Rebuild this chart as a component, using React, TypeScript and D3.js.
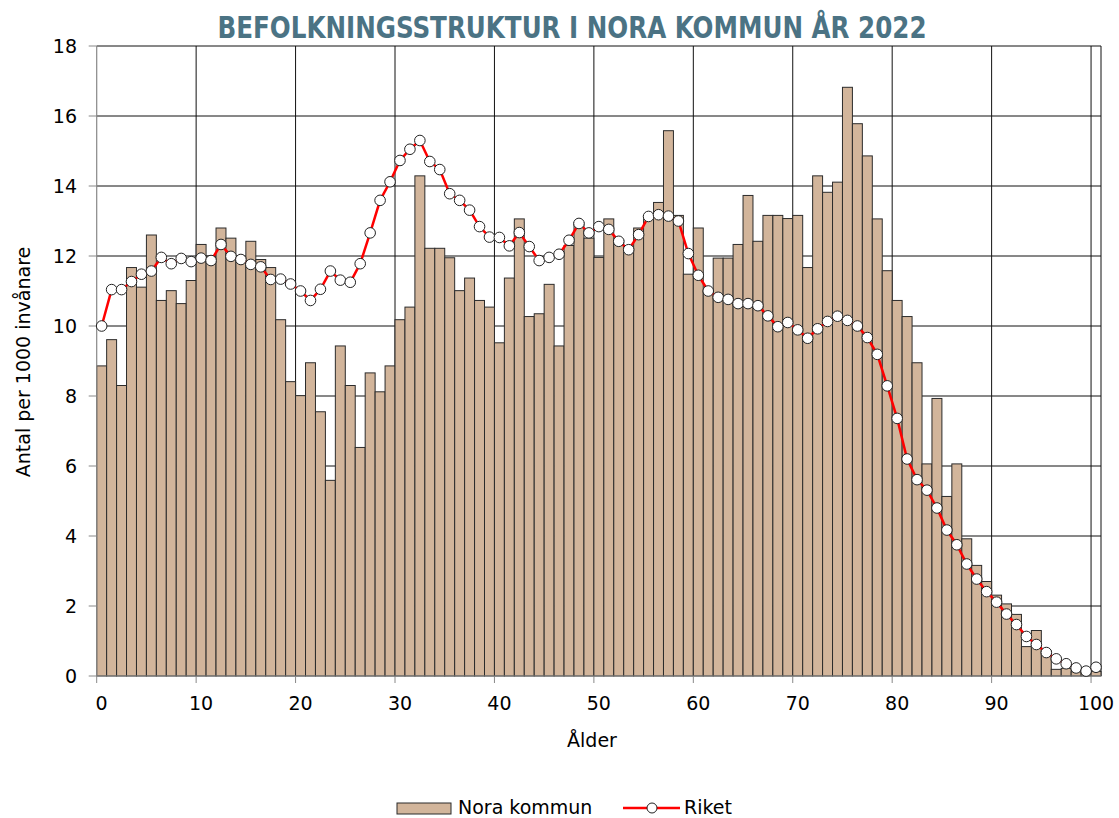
import { useMemo } from 'react';
import * as d3 from 'd3';

// Andel invånare per ettårsklass (antal per 1000 invånare), ålder 0–100
const AGES = d3.range(0, 101);

const NORA = [
  8.86, 9.61, 8.3, 11.67, 11.11, 12.6, 10.73, 11.01, 10.64, 11.3,
  12.33, 12.0, 12.8, 12.51, 11.9, 12.42, 11.9, 11.67, 10.18, 8.41,
  8.01, 8.95, 7.55, 5.59, 9.43, 8.3, 6.53, 8.66, 8.12, 8.86,
  10.18, 10.54, 14.29, 12.22, 12.22, 11.95, 11.01, 11.37, 10.73, 10.54,
  9.52, 11.37, 13.06, 10.27, 10.35, 11.19, 9.43, 12.3, 12.95, 12.51,
  11.96, 13.06, 12.45, 12.2, 12.8, 13.15, 13.53, 15.58, 13.16, 11.48,
  12.8, 11.0, 11.94, 11.94, 12.33, 13.73, 12.42, 13.16, 13.16, 13.07,
  13.16, 11.67, 14.29, 13.82, 14.11, 16.82, 15.78, 14.86, 13.06, 11.58,
  10.73, 10.27, 8.95, 6.06, 7.93, 5.13, 6.06, 3.92, 3.16, 2.7,
  2.31, 2.06, 1.76, 0.84, 1.3, 0.72, 0.19, 0.22, 0.12, 0.09,
  0.13,
];

const RIKET = [
  10.0, 11.04, 11.04, 11.27, 11.48, 11.57, 11.96, 11.78, 11.93, 11.84,
  11.94, 11.87, 12.33, 11.99, 11.9, 11.76, 11.69, 11.33, 11.34, 11.2,
  11.0, 10.73, 11.05, 11.57, 11.31, 11.25, 11.78, 12.66, 13.59, 14.12,
  14.73, 15.05, 15.3, 14.7, 14.47, 13.78, 13.59, 13.31, 12.84, 12.54,
  12.53, 12.29, 12.67, 12.27, 11.87, 11.96, 12.05, 12.45, 12.93, 12.66,
  12.84, 12.76, 12.42, 12.18, 12.61, 13.13, 13.18, 13.14, 13.0, 12.07,
  11.45, 11.0, 10.82, 10.76, 10.64, 10.64, 10.58, 10.29, 9.98, 10.1,
  9.89, 9.65, 9.92, 10.13, 10.28, 10.16, 10.0, 9.67, 9.19, 8.29,
  7.36, 6.2, 5.61, 5.31, 4.8, 4.17, 3.75, 3.2, 2.77, 2.41,
  2.11, 1.77, 1.47, 1.13, 0.9, 0.67, 0.49, 0.35, 0.23, 0.14,
  0.25,
];

const Y_TICKS = d3.range(0, 19, 2);
const X_TICKS = d3.range(0, 101, 10);

const W = 1119, H = 818;
const LEFT = 96.7, RIGHT = 1101, TOP = 46, BOTTOM = 676;
const FONT = '"DejaVu Sans", "Liberation Sans", sans-serif';

export default function App() {
  const x = useMemo(() => d3.scaleBand<number>().domain(AGES).range([LEFT, RIGHT]).padding(0), []);
  const y = useMemo(() => d3.scaleLinear().domain([0, 18]).range([BOTTOM, TOP]), []);
  const bw = x.bandwidth();
  const cx = (a: number) => (x(a) as number) + bw / 2;

  const line = d3.line<number>()
    .x((_, i) => cx(AGES[i]))
    .y(v => y(v));

  return (
    <>
      <style>{'body{margin:0}'}</style>
      <svg width={W} height={H} style={{ display: 'block', fontFamily: FONT }}>
        <rect width={W} height={H} fill="#fff" />

        <text x={572} y={38} textAnchor="middle" fill="#4b7384" fontWeight="bold"
          fontSize={30} fontFamily='"Liberation Sans Narrow", "DejaVu Sans Condensed", sans-serif'
          textLength={709} lengthAdjust="spacingAndGlyphs">
          BEFOLKNINGSSTRUKTUR I NORA KOMMUN ÅR 2022
        </text>

        {/* grid */}
        {Y_TICKS.slice(1).map(t => (
          <line key={'h' + t} x1={LEFT} x2={RIGHT} y1={y(t)} y2={y(t)} stroke="#111" strokeWidth={1} />
        ))}
        {X_TICKS.slice(1).map(t => (
          <line key={'v' + t} x1={x(t)} x2={x(t)} y1={TOP} y2={BOTTOM} stroke="#111" strokeWidth={1} />
        ))}
        <line x1={RIGHT} x2={RIGHT} y1={TOP} y2={BOTTOM} stroke="#111" />

        {/* bars */}
        {AGES.map((a, i) => (
          <rect key={a} x={x(a)} y={y(NORA[i])} width={bw} height={BOTTOM - y(NORA[i])}
            fill="#d2b59b" stroke="#2b2b2b" strokeWidth={1} />
        ))}

        {/* axes */}
        <line x1={LEFT} x2={LEFT} y1={TOP} y2={BOTTOM} stroke="#888" strokeWidth={1.2} />
        <line x1={LEFT} x2={RIGHT} y1={BOTTOM} y2={BOTTOM} stroke="#888" strokeWidth={1.2} />
        {Y_TICKS.map(t => (
          <g key={'yt' + t}>
            <line x1={LEFT - 8} x2={LEFT} y1={y(t)} y2={y(t)} stroke="#888" />
            <text x={77} y={y(t)} dy="0.36em" textAnchor="end" fontSize={19} fill="#000">{t}</text>
          </g>
        ))}
        {X_TICKS.map(t => (
          <g key={'xt' + t}>
            <line x1={x(t)} x2={x(t)} y1={BOTTOM} y2={BOTTOM + 7} stroke="#888" />
            <text x={cx(t)} y={710} textAnchor="middle" fontSize={19} fill="#000">{t}</text>
          </g>
        ))}

        <text transform="translate(30,362) rotate(-90)" textAnchor="middle" fontSize={19} fill="#000">
          Antal per 1000 invånare
        </text>
        <text x={592} y={747} textAnchor="middle" fontSize={19} fill="#000">Ålder</text>

        {/* Riket */}
        <path d={line(RIKET) ?? ''} fill="none" stroke="#ff0000" strokeWidth={2.5} />
        {AGES.map((a, i) => (
          <circle key={'m' + a} cx={cx(a)} cy={y(RIKET[i])} r={5.3} fill="#fff" stroke="#222" strokeWidth={1} />
        ))}

        {/* legend */}
        <rect x={397} y={803} width={54} height={11} fill="#d2b59b" stroke="#2b2b2b" />
        <text x={458} y={814} fontSize={19} fill="#000">Nora kommun</text>
        <line x1={623} x2={680} y1={808} y2={808} stroke="#ff0000" strokeWidth={2.5} />
        <circle cx={652} cy={808} r={5} fill="#fff" stroke="#222" />
        <text x={684} y={814} fontSize={19} fill="#000">Riket</text>
      </svg>
    </>
  );
}
